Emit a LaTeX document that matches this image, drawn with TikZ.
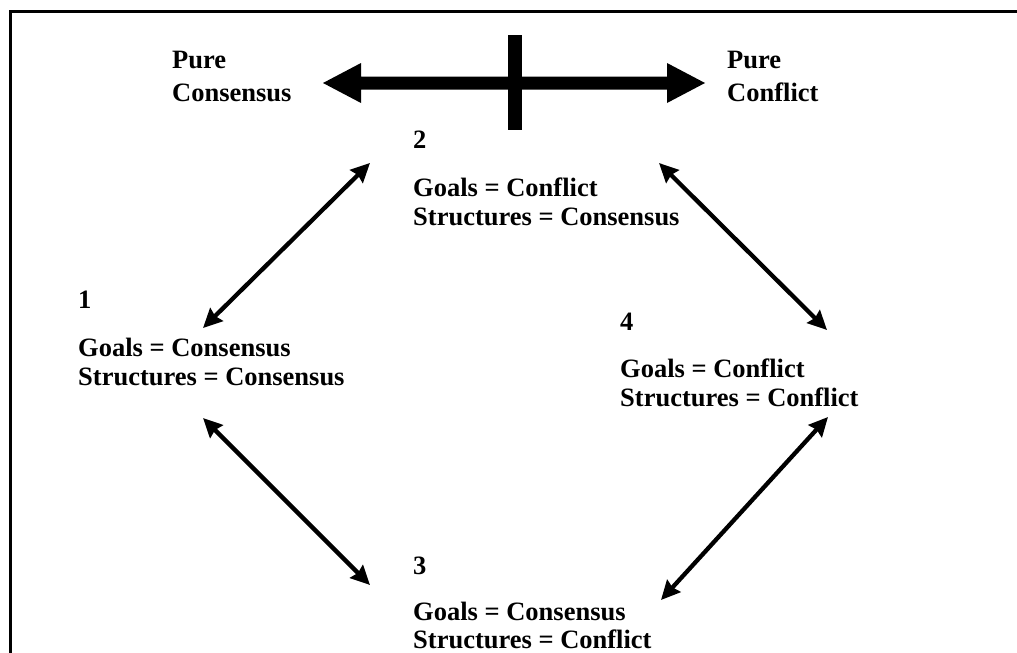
\documentclass[tikz,border=0pt]{standalone}
\usepackage{fontspec}
\setmainfont{Liberation Serif}
\usetikzlibrary{arrows.meta}
\begin{document}
\begin{tikzpicture}[x=1pt,y=-1pt,
  lbl/.style={anchor=base west,inner sep=0pt,font=\bfseries\fontsize{26.5}{30}\selectfont},
  link/.style={line width=4.3pt,{Stealth[length=19pt,width=18pt,inset=2pt]}-{Stealth[length=19pt,width=18pt,inset=2pt]}}]
\useasboundingbox (0,0) rectangle (1017,653);
% frame
\draw[line width=3pt] (10.5,660) -- (10.5,11.5) -- (1025,11.5);
% top labels
\node[lbl] (pc1) at (172,68) {Pure};
\node[lbl] (pc2) at (172,101) {Consensus};
\node[lbl] (pf1) at (727,68) {Pure};
\node[lbl] (pf2) at (727,101) {Conflict};
% big double arrow
\fill (323,83) -- (361,63) -- (361,76.5) -- (667,76.5) -- (667,63) -- (705,83)
      -- (667,103) -- (667,89.5) -- (361,89.5) -- (361,103) -- cycle;
\fill (508,35) rectangle (522,130);
% node 1
\node[lbl] (n1) at (78,308) {1};
\node[lbl] (g1) at (78,356) {Goals = Consensus};
\node[lbl] (s1) at (78,385) {Structures = Consensus};
% node 2
\node[lbl] (n2) at (413,148) {2};
\node[lbl] (g2) at (413,196) {Goals = Conflict};
\node[lbl] (s2) at (413,225) {Structures = Consensus};
% node 3
\node[lbl] (n3) at (413,574) {3};
\node[lbl] (g3) at (413,620) {Goals = Consensus};
\node[lbl,text depth=0pt] (s3) at (413,648) {Structures = Conflict};
% node 4
\node[lbl] (n4) at (620,330) {4};
\node[lbl] (g4) at (620,377) {Goals = Conflict};
\node[lbl] (s4) at (620,406) {Structures = Conflict};
% connector ends
\coordinate (a1) at (203,328); \coordinate (a2) at (370,163);
\coordinate (b1) at (203,418); \coordinate (b3) at (370,585);
\coordinate (c2) at (659,163); \coordinate (c4) at (827,330);
\coordinate (d3) at (661,600); \coordinate (d4) at (828,417);
\draw[link] (a1) -- (a2);
\draw[link] (b1) -- (b3);
\draw[link] (c2) -- (c4);
\draw[link] (d3) -- (d4);
\end{tikzpicture}
\end{document}
